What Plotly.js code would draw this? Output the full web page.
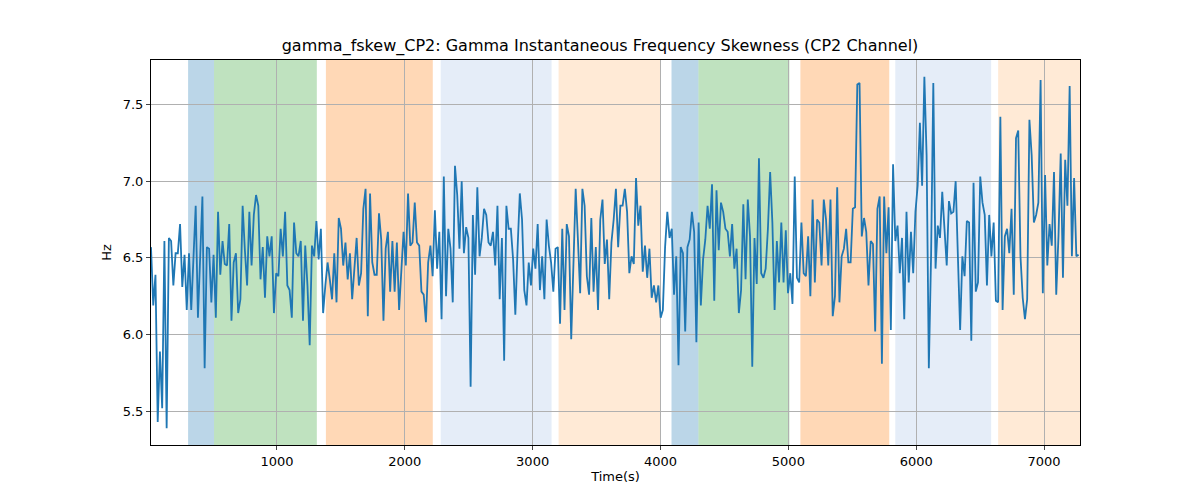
<!DOCTYPE html>
<html>
<head>
<script src="https://cdn.plot.ly/plotly-3.0.1.min.js"></script>
<style>body{margin:0}</style>
</head>
<body>
<div id="chart" style="width:1200px;height:500px"></div>
<script>
var tStart = 15, tEnd = 7270;
var fskew = [
6.57,6.19,6.39,5.43,5.89,5.52,6.61,5.39,6.63,6.61,6.32,6.53,6.53,6.72,6.31,6.52,6.16,6.53,6.16,6.53,6.84,6.11,6.51,6.90,5.78,
6.57,6.56,6.21,6.52,6.11,6.80,6.39,6.61,6.46,6.45,6.72,6.09,6.47,6.53,6.14,6.23,6.84,6.55,6.32,6.80,6.45,6.78,6.91,6.84,6.36,6.57,6.24,6.64,6.51,6.64,6.14,6.40,6.38,6.69,6.51,6.80,6.32,6.29,6.11,6.73,6.53,6.51,6.61,6.09,
6.58,6.32,5.93,6.58,6.51,6.74,6.49,6.69,6.14,6.32,6.47,6.36,6.23,6.53,6.21,6.76,6.69,6.45,6.60,6.36,6.53,6.23,
6.43,6.63,6.32,6.40,6.82,6.95,6.12,6.92,6.47,6.39,6.39,6.79,6.62,6.09,6.56,6.67,6.28,6.61,6.28,6.60,6.16,6.43,6.67,6.45,6.92,6.58,6.60,6.86,6.60,
6.58,6.28,6.26,6.08,6.47,6.58,6.38,6.81,6.43,6.67,6.10,7.03,6.25,6.69,6.56,6.21,7.10,6.91,6.56,7.00,6.53,6.70,6.63,5.66,6.78,6.39,6.96,6.51,6.63,6.82,6.78,6.60,6.58,6.67,6.45,6.84,6.23,6.63,5.83,6.84,6.69,6.69,6.49,6.13,6.56,6.92,6.75,6.29,6.19,6.47,
6.32,6.56,6.43,6.72,6.29,6.51,6.23,6.75,6.58,6.47,6.28,6.56,6.57,6.07,6.69,6.16,6.72,6.64,5.97,6.47,6.95,6.62,6.27,
6.95,6.84,6.38,6.26,6.76,6.28,6.57,6.16,6.75,6.88,6.46,6.62,6.23,6.60,6.75,6.95,6.57,6.84,6.84,6.95,6.80,6.40,6.51,6.46,7.02,6.71,6.84,6.41,6.58,6.37,6.56,6.24,6.32,6.21,6.32,6.11,6.16,
6.57,6.80,6.63,6.69,6.26,6.51,5.80,6.57,6.53,6.02,6.57,6.62,
6.80,6.67,5.95,6.73,6.19,6.49,6.62,6.84,6.69,6.98,6.22,6.94,6.55,6.86,6.80,6.69,6.67,6.51,6.72,6.43,6.56,6.14,6.29,6.85,6.36,6.88,6.64,5.79,6.63,6.33,7.15,6.40,6.37,6.43,6.69,7.06,6.73,6.16,6.61,6.34,6.73,6.34,6.68,6.27,6.40,6.20,
7.03,6.37,6.34,6.73,6.40,6.38,6.64,6.25,6.88,6.34,6.75,6.73,6.45,6.88,
6.75,6.45,6.88,6.12,6.25,6.96,6.21,6.51,6.56,6.69,6.47,6.47,6.82,6.83,7.63,7.64,6.64,6.76,6.67,6.32,6.61,6.59,6.02,6.82,6.90,5.81,
6.90,6.53,6.83,6.03,7.11,6.61,6.71,6.40,6.63,6.10,6.80,6.34,6.67,6.40,6.80,6.97,7.38,6.97,7.68,7.17,5.78,6.51,7.64,6.43,6.71,6.63,6.93,6.69,6.45,6.87,6.79,6.80,7.00,6.51,6.03,6.51,6.38,6.74,6.73,5.96,6.99,6.28,6.34,7.03,6.86,6.78,6.32,6.78,6.51,6.73,
6.22,6.21,7.42,6.16,6.64,6.69,6.53,6.82,6.26,7.28,7.33,6.51,6.24,6.10,6.23,7.40,7.17,6.73,6.78,6.86,7.66,6.27,7.04,6.45,6.72,6.58,7.06,6.26,6.64,7.18,6.37,7.14,6.84,7.62,6.51,7.02,6.51,6.52
];
var segStart = [305, 508, 1383, 2281, 3203, 4086, 4297, 5094, 5836, 6641];
var segEnd   = [508, 1312, 2219, 3148, 4000, 4297, 5008, 5789, 6586, 7281];
var segColor = ['rgba(31,119,180,0.3)','rgba(44,160,44,0.3)','rgba(255,127,14,0.3)','rgba(174,199,232,0.32)','rgba(255,187,120,0.3)',
                'rgba(31,119,180,0.3)','rgba(44,160,44,0.3)','rgba(255,127,14,0.3)','rgba(174,199,232,0.32)','rgba(255,187,120,0.3)'];

var n = fskew.length;
var times = fskew.map(function(v, i) { return tStart + i * (tEnd - tStart) / (n - 1); });

var shapes = segStart.map(function(s, i) {
  return {type: 'rect', xref: 'x', yref: 'paper', x0: s, x1: segEnd[i], y0: 0, y1: 1,
          fillcolor: segColor[i], line: {width: 0}, layer: 'below'};
});

var trace = {x: times, y: fskew, type: 'scatter', mode: 'lines',
             line: {color: '#1f77b4', width: 1.8}};

var layout = {
  width: 1200, height: 500,
  margin: {l: 151, r: 120, t: 60, b: 55},
  paper_bgcolor: 'white', plot_bgcolor: 'rgba(0,0,0,0)',
  font: {family: 'DejaVu Sans', size: 13, color: 'black'},
  title: {text: 'gamma_fskew_CP2: Gamma Instantaneous Frequency Skewness (CP2 Channel)', font: {size: 16}, x: 0.5, y: 0.92},
  showlegend: false,
  shapes: shapes,
  xaxis: {range: [tStart, 7281], tickvals: [1000, 2000, 3000, 4000, 5000, 6000, 7000],
          showgrid: true, gridcolor: '#b0b0b0', zeroline: false, ticks: 'outside', ticklen: 4,
          showline: true, mirror: true, linecolor: 'black', title: {text: 'Time(s)', font: {size: 13}, standoff: 4}},
  yaxis: {range: [5.28, 7.79], tickvals: [5.5, 6.0, 6.5, 7.0, 7.5], ticktext: ['5.5','6.0','6.5','7.0','7.5'],
          showgrid: true, gridcolor: '#b0b0b0', zeroline: false, ticks: 'outside', ticklen: 4,
          showline: true, mirror: true, linecolor: 'black', title: {text: 'Hz', font: {size: 13}, standoff: 8}}
};

Plotly.newPlot('chart', [trace], layout, {displayModeBar: false});
</script>
</body>
</html>
